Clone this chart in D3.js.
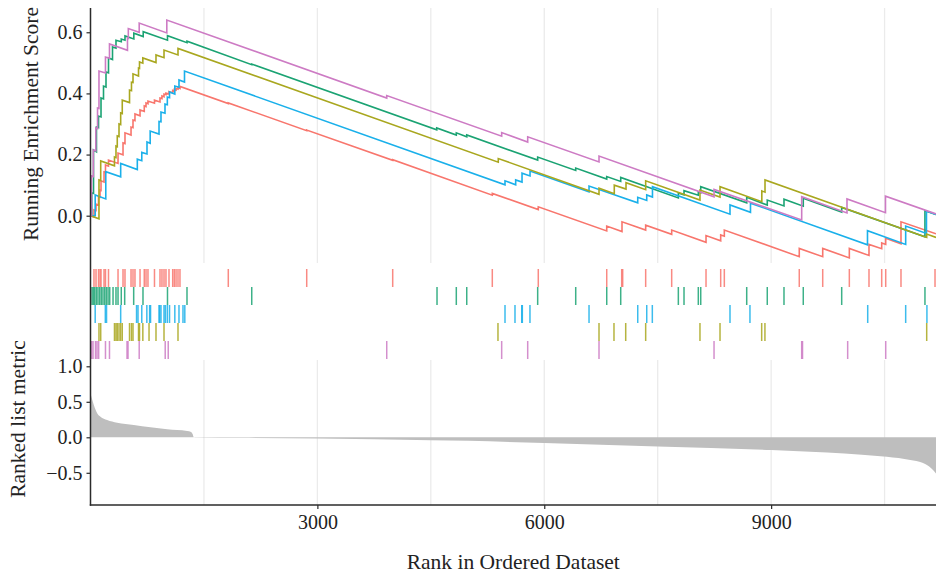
<!DOCTYPE html>
<html>
<head>
<meta charset="utf-8">
<script src="https://cdn.jsdelivr.net/npm/d3@7"></script>
<style>
  body { margin: 0; background: #fff; }
  svg { display: block; }
  text { font-family: "Liberation Serif", "Times New Roman", serif; fill: #222; }
</style>
</head>
<body>
<svg id="chart" width="936" height="577"></svg>
<script>
// ---- data ---------------------------------------------------------------
const rankMax = 11180;
const xTickValues = [3000, 6000, 9000];
const xGridValues = [1500, 3000, 4500, 6000, 7500, 9000, 10500];
const esTickValues = [0, 0.2, 0.4, 0.6];
const metricTickValues = [-0.5, 0, 0.5, 1.0];

const seriesKeys = ["red", "green", "blue", "olive", "purple"];
const seriesColors = ["#F8766D", "#1BA373", "#1AB0EA", "#A9A71F", "#CD7BC4"];

// gene positions in the ranked list (hits)
const hitsRed = [46, 73, 106, 126, 139, 179, 198, 238, 364, 430, 456, 536, 562, 588, 655, 711, 734, 760, 846, 919, 945, 972, 998, 1038, 1087, 1108, 1131, 1157, 1183, 1822, 2859, 3996, 5313, 5921, 6826, 7024, 7037, 7341, 7685, 8139, 8333, 8381, 9372, 9682, 10034, 10294, 10462, 10515, 10717, 11167];
const hitsGreen = [20, 37, 56, 77, 99, 122, 143, 165, 188, 209, 232, 254, 298, 337, 364, 407, 452, 571, 694, 1018, 1276, 2132, 4582, 4837, 4975, 5913, 6416, 6826, 7011, 7773, 7848, 8037, 8069, 8677, 8949, 9170, 9425, 9933, 11034];
const hitsBlue = [62, 196, 212, 399, 609, 628, 678, 745, 782, 794, 906, 915, 932, 972, 990, 1016, 1045, 1115, 1170, 1223, 1247, 5481, 5613, 5702, 5710, 5811, 6592, 7236, 7355, 7429, 8456, 8720, 10277, 10779, 11060];
const hitsOlive = [112, 135, 317, 337, 354, 377, 399, 420, 516, 542, 562, 635, 648, 692, 774, 866, 972, 1157, 5388, 6724, 6922, 7077, 7341, 8059, 8324, 8875, 8918, 11057];
const hitsPurple = [13, 33, 66, 86, 108, 198, 251, 483, 496, 644, 988, 1028, 3917, 5437, 5781, 6724, 8245, 9404, 9415, 10012, 10515];

// running enrichment score: [rank, score before step, score after step]
const esRed = [[46,-0.004,0.019],[73,0.017,0.038],[106,0.035,0.061],[126,0.060,0.084],[139,0.083,0.114],[179,0.110,0.143],[198,0.141,0.166],[238,0.162,0.182],[364,0.171,0.205],[430,0.199,0.238],[456,0.236,0.271],[536,0.264,0.290],[562,0.288,0.313],[588,0.311,0.333],[655,0.327,0.346],[711,0.341,0.359],[734,0.357,0.369],[760,0.366,0.375],[846,0.368,0.378],[919,0.372,0.385],[945,0.383,0.392],[972,0.389,0.398],[998,0.396,0.401],[1038,0.398,0.406],[1087,0.402,0.410],[1108,0.408,0.413],[1131,0.411,0.416],[1157,0.414,0.419],[1183,0.416,0.423],[1822,0.367,0.369],[2859,0.278,0.280],[3996,0.181,0.183],[5313,0.067,0.073],[5921,0.020,0.029],[6826,-0.050,-0.034],[7028,-0.052,-0.020],[7341,-0.047,-0.031],[7685,-0.061,-0.047],[8139,-0.087,-0.065],[8333,-0.082,-0.063],[8381,-0.067,-0.047],[9372,-0.134,-0.107],[9682,-0.134,-0.107],[10034,-0.138,-0.107],[10294,-0.130,-0.094],[10462,-0.108,-0.089],[10515,-0.094,-0.074],[10717,-0.092,-0.020],[11180,-0.059,-0.059]];
const esGreen = [[17,0,0.075],[40,0.073,0.215],[79,0.209,0.290],[106,0.288,0.326],[139,0.323,0.385],[172,0.382,0.424],[205,0.421,0.470],[238,0.467,0.516],[291,0.511,0.552],[337,0.548,0.574],[407,0.569,0.578],[456,0.574,0.588],[573,0.578,0.597],[697,0.586,0.602],[1018,0.574,0.589],[1276,0.566,0.571],[2132,0.494,0.496],[4578,0.281,0.287],[4837,0.264,0.271],[4975,0.258,0.264],[5913,0.182,0.192],[6416,0.148,0.156],[6826,0.120,0.128],[7011,0.112,0.125],[7773,0.058,0.074],[7848,0.068,0.082],[8037,0.067,0.078],[8069,0.075,0.095],[8677,0.042,0.060],[8949,0.035,0.051],[9170,0.032,0.054],[9425,0.031,0.057],[9933,0.012,0.027],[11034,-0.069,0.016],[11180,0.004,0.004]];
const esBlue = [[62,0,0.068],[202,0.055,0.144],[399,0.127,0.171],[619,0.151,0.185],[678,0.180,0.207],[747,0.202,0.241],[789,0.237,0.277],[906,0.267,0.308],[932,0.307,0.339],[985,0.335,0.365],[1016,0.363,0.388],[1045,0.386,0.405],[1115,0.398,0.424],[1170,0.420,0.444],[1243,0.437,0.473],[5481,0.101,0.114],[5622,0.101,0.117],[5706,0.110,0.139],[5812,0.130,0.146],[6592,0.078,0.097],[7236,0.042,0.060],[7355,0.050,0.068],[7431,0.061,0.095],[8456,0.005,0.035],[8727,0.011,0.041],[10274,-0.095,-0.049],[10779,-0.094,-0.034],[11054,-0.058,0.015],[11180,0.004,0.004]];
const esOlive = [[112,-0.010,0.117],[135,0.115,0.179],[317,0.163,0.192],[337,0.190,0.228],[354,0.226,0.261],[377,0.259,0.300],[399,0.298,0.336],[420,0.334,0.378],[516,0.370,0.411],[542,0.409,0.437],[562,0.436,0.464],[635,0.457,0.483],[648,0.482,0.503],[692,0.499,0.516],[866,0.501,0.526],[972,0.517,0.542],[1157,0.526,0.547],[5392,0.175,0.187],[6724,0.070,0.090],[6926,0.072,0.100],[7081,0.087,0.108],[7341,0.085,0.114],[8059,0.051,0.084],[8324,0.061,0.095],[8877,0.046,0.081],[8919,0.077,0.117],[11057,-0.071,-0.060],[11180,-0.071,-0.071]];
const esPurple = [[13,0,0.130],[37,0.128,0.215],[70,0.212,0.287],[93,0.285,0.352],[112,0.351,0.473],[198,0.467,0.519],[251,0.515,0.562],[489,0.541,0.581],[500,0.580,0.612],[644,0.600,0.630],[1009,0.598,0.640],[3917,0.385,0.393],[5437,0.260,0.272],[5781,0.241,0.258],[6724,0.176,0.195],[8245,0.062,0.086],[9404,-0.014,0.062],[10003,0.009,0.055],[10512,0.010,0.064],[11180,0.006,0.006]];

// ranked list metric, sampled along the ranking
const metricRanks = [0, 44, 88, 132, 220, 353, 573, 793, 1014, 1278, 1330, 1350, 1366, 1400, 2000, 3000, 4500, 5000, 6000, 7500, 9000, 9740, 10200, 10530, 10840, 11000, 11060, 11120, 11180];
const metricValues = [0.62, 0.455, 0.34, 0.29, 0.244, 0.206, 0.173, 0.141, 0.113, 0.089, 0.075, 0.045, 0.0, -0.003, -0.008, -0.018, -0.04, -0.05, -0.08, -0.13, -0.18, -0.215, -0.245, -0.275, -0.32, -0.36, -0.39, -0.44, -0.51];

const hitSets = [hitsRed, hitsGreen, hitsBlue, hitsOlive, hitsPurple];
const esSets = [esRed, esGreen, esBlue, esOlive, esPurple];

// ---- layout ---------------------------------------------------------------
const svg = d3.select("#chart");
const left = 90.5, right = 936;
const topPanel = { y0: 8, y1: 263 };
const hitPanel = { y0: 269, y1: 359 };
const botPanel = { y0: 360, y1: 505 };

const x = d3.scaleLinear().domain([0, rankMax]).range([left, right]);
const yES = d3.scaleLinear().domain([-0.1547, 0.6794]).range([topPanel.y1, topPanel.y0]);
const yMetric = d3.scaleLinear().domain([-0.9535, 1.0887]).range([botPanel.y1, botPanel.y0]);
const yRow = d3.scaleBand().domain(seriesKeys).range([hitPanel.y0, hitPanel.y1]).padding(0);

const gridColor = "#ebebeb";
const axisColor = "#2b2b2b";

// vertical grid lines in the score and metric panels
[topPanel, botPanel].forEach(p => {
  svg.append("g").selectAll("line").data(xGridValues).join("line")
    .attr("x1", d => x(d)).attr("x2", d => x(d))
    .attr("y1", p.y0).attr("y2", p.y1)
    .attr("stroke", gridColor).attr("stroke-width", 1.3);
});

// clip for the score panel
svg.append("clipPath").attr("id", "clipTop")
  .append("rect").attr("x", left).attr("y", topPanel.y0)
  .attr("width", right - left).attr("height", topPanel.y1 - topPanel.y0);

// running enrichment score lines
const esLine = d3.line().x(d => x(d[0])).y(d => yES(d[1]));
esSets.forEach((steps, i) => {
  const pts = [[0, 0]];
  steps.forEach(([r, before, after]) => { pts.push([r, before]); pts.push([r, after]); });
  svg.append("path")
    .attr("clip-path", "url(#clipTop)")
    .attr("d", esLine(pts))
    .attr("fill", "none")
    .attr("stroke", seriesColors[i])
    .attr("stroke-width", 1.6)
    .attr("stroke-linejoin", "miter");
});

// hit ticks, one row per gene set
hitSets.forEach((hits, i) => {
  const key = seriesKeys[i];
  svg.append("g").selectAll("line").data(hits).join("line")
    .attr("x1", d => x(d)).attr("x2", d => x(d))
    .attr("y1", yRow(key)).attr("y2", yRow(key) + yRow.bandwidth())
    .attr("stroke", seriesColors[i])
    .attr("stroke-opacity", 0.85)
    .attr("stroke-width", 1.5);
});

// ranked list metric area
const metricData = metricRanks.map((r, i) => [r, metricValues[i]]);
const area = d3.area()
  .x(d => x(d[0]))
  .y0(yMetric(0))
  .y1(d => yMetric(d[1]))
  .curve(d3.curveMonotoneX);
svg.append("path").attr("d", area(metricData)).attr("fill", "#bebebe");

// axes
const axisLeftTop = d3.axisLeft(yES).tickValues(esTickValues).tickSize(4).tickPadding(4)
  .tickFormat(d3.format(".1f"));
const axisLeftBot = d3.axisLeft(yMetric).tickValues(metricTickValues).tickSize(4).tickPadding(4)
  .tickFormat(d => d3.format(".1f")(d).replace("-", "\u2212"));
const axisBottom = d3.axisBottom(x).tickValues(xTickValues).tickSize(4).tickPadding(6)
  .tickFormat(d3.format("d"));

function styleAxis(g) {
  g.select(".domain").remove();
  g.selectAll(".tick line").attr("stroke", axisColor).attr("stroke-width", 1.2);
  g.selectAll(".tick text").attr("font-size", 20).attr("fill", "#222")
    .attr("font-family", "'Liberation Serif', 'Times New Roman', serif");
}
svg.append("g").attr("transform", `translate(${left},0)`).call(axisLeftTop).call(styleAxis);
svg.append("g").attr("transform", `translate(${left},0)`).call(axisLeftBot).call(styleAxis);
svg.append("g").attr("transform", `translate(0,${botPanel.y1})`).call(axisBottom).call(styleAxis);

// axis lines
svg.append("line").attr("x1", left).attr("x2", left)
  .attr("y1", topPanel.y0).attr("y2", botPanel.y1 + 0.7)
  .attr("stroke", axisColor).attr("stroke-width", 1.5);
svg.append("line").attr("x1", left - 0.7).attr("x2", right)
  .attr("y1", botPanel.y1).attr("y2", botPanel.y1)
  .attr("stroke", axisColor).attr("stroke-width", 1.5);

// titles
svg.append("text").attr("transform", "translate(38,124) rotate(-90)")
  .attr("text-anchor", "middle").attr("font-size", 21.5).text("Running Enrichment Score");
svg.append("text").attr("transform", "translate(25,419) rotate(-90)")
  .attr("text-anchor", "middle").attr("font-size", 21.5).text("Ranked list metric");
svg.append("text").attr("x", (left + right) / 2).attr("y", 569)
  .attr("text-anchor", "middle").attr("font-size", 21.5).text("Rank in Ordered Dataset");
</script>
</body>
</html>
